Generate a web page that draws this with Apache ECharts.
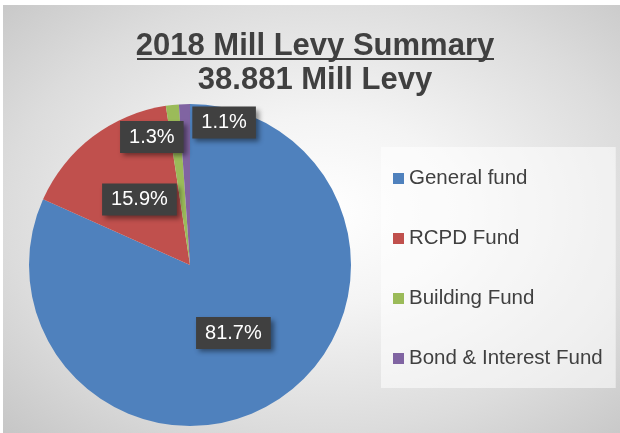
<!DOCTYPE html>
<html>
<head>
<meta charset="utf-8">
<script src="https://cdn.jsdelivr.net/npm/echarts@6/dist/echarts.min.js"></script>
<style>
  html, body { margin: 0; padding: 0; background: #ffffff; width: 620px; height: 433px; overflow: hidden; }
  #chart { position: absolute; left: 3px; top: 5px; width: 617px; height: 428px;
    background: radial-gradient(ellipse at 52% 48%, #ffffff 0%, #f4f4f4 30%, #dcdcdc 70%, #c6c6c6 100%); }
</style>
</head>
<body>
<div id="chart"></div>
<script>
const titleText = '2018 Mill Levy Summary';
const subtitleText = '38.881 Mill Levy';
const categories = ['General fund', 'RCPD Fund', 'Building Fund', 'Bond & Interest Fund'];
const sharePercent = [81.7, 15.9, 1.3, 1.1];
const sliceColors = ['#4F81BD', '#C0504D', '#9BBB59', '#8064A2'];
const labelShift = [[-2, -2], [0, 1], [-29, -45], [37, -59]];

const chart = echarts.init(document.getElementById('chart'), null, { renderer: 'canvas' });
const font = '"Liberation Sans", Arial, sans-serif';

chart.setOption({
  backgroundColor: 'transparent',
  animation: false,
  color: sliceColors,
  graphic: [
    { type: 'text', x: 312, y: 41, style: { text: titleText, fill: '#404040', font: 'bold 31px ' + font, textAlign: 'center', textVerticalAlign: 'middle' } },
    { type: 'rect', shape: { x: 134, y: 53, width: 357, height: 2 }, style: { fill: '#404040' } },
    { type: 'text', x: 312, y: 75, style: { text: subtitleText, fill: '#404040', font: 'bold 31px ' + font, textAlign: 'center', textVerticalAlign: 'middle' } }
  ],
  legend: {
    orient: 'vertical',
    left: 378,
    top: 142,
    padding: [21, 13, 19, 12],
    itemGap: 39,
    itemWidth: 11,
    itemHeight: 11,
    icon: 'rect',
    backgroundColor: 'rgba(255,255,255,0.55)',
    textStyle: { fontFamily: font, fontSize: 20.5, color: '#404040' },
    data: categories
  },
  series: [{
    type: 'pie',
    center: [187, 260],
    radius: 161,
    startAngle: 90,
    clockwise: true,
    silent: true,
    itemStyle: { borderWidth: 0 },
    label: {
      show: true,
      position: 'inside',
      formatter: p => p.value.toFixed(1) + '%',
      fontFamily: font,
      fontSize: 20,
      lineHeight: 20,
      color: '#ffffff',
      backgroundColor: '#404040',
      padding: [6, 9, 6, 9],
      shadowBlur: 5,
      shadowOffsetX: 3,
      shadowOffsetY: 3,
      shadowColor: 'rgba(0,0,0,0.45)'
    },
    labelLine: { show: false },
    labelLayout: params => ({ dx: labelShift[params.dataIndex][0], dy: labelShift[params.dataIndex][1] }),
    data: categories.map((name, i) => ({ name, value: sharePercent[i] }))
  }]
});
</script>
</body>
</html>
